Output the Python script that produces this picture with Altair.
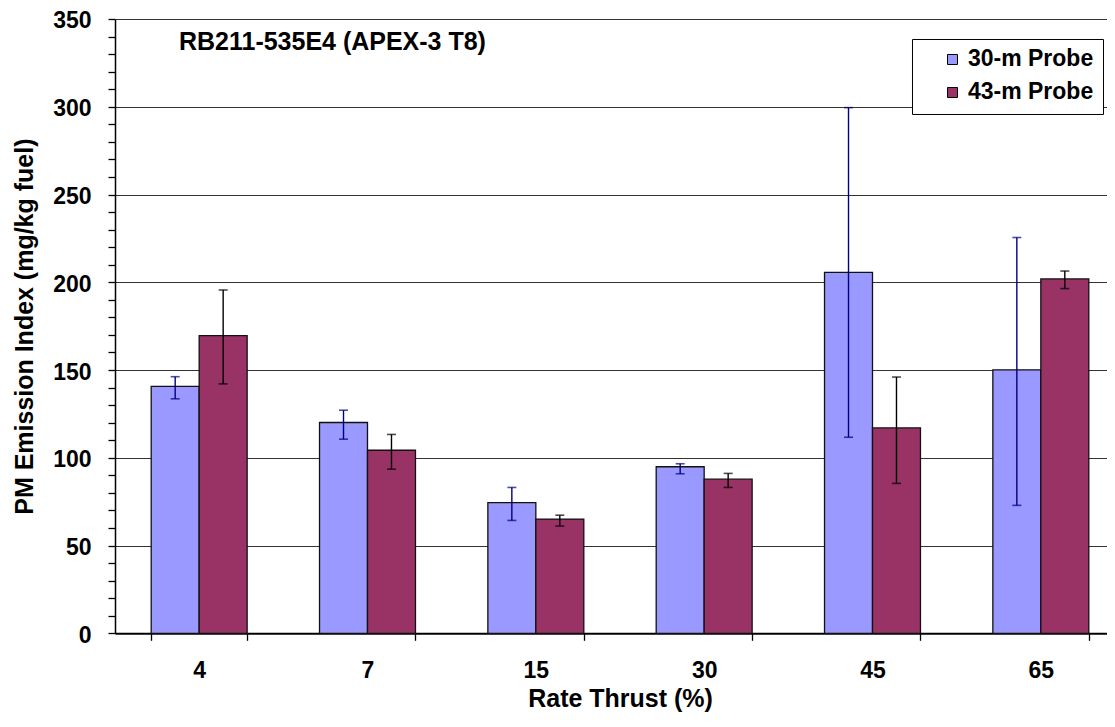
import altair as alt
import pandas as pd

# ---- data ----
thrust = ["4", "7", "15", "30", "45", "65"]
series_names = ["30-m Probe", "43-m Probe"]

pm_30m = [140.7, 120.1, 74.4, 94.9, 205.6, 150.1]
lo_30m = [133.6, 110.6, 64.3, 90.9, 111.7, 72.9]
hi_30m = [146.2, 127.1, 83.1, 96.6, 299.5, 225.5]

pm_43m = [169.6, 104.3, 65.1, 87.8, 117.0, 201.9]
lo_43m = [142.1, 93.5, 61.1, 83.1, 85.4, 196.4]
hi_43m = [195.6, 113.3, 67.3, 91.1, 146.0, 206.4]

fill_colors = ["#9999FF", "#993366"]
err_colors = ["#000080", "#000000"]
annotation = ["RB211-535E4 (APEX-3 T8)"]
y_ticks = list(range(0, 351, 10))

FONT = "Liberation Sans"

rows = []
for s, vals, los, his, ec in [
    (series_names[0], pm_30m, lo_30m, hi_30m, err_colors[0]),
    (series_names[1], pm_43m, lo_43m, hi_43m, err_colors[1]),
]:
    for t, v, lo, hi in zip(thrust, vals, los, his):
        rows.append({"thrust": t, "series": s, "pm": v, "lo": lo, "hi": hi, "ecolor": ec})
df = pd.DataFrame(rows)

x_enc = alt.X(
    "thrust:N",
    sort=thrust,
    scale=alt.Scale(range=[0, 1010], paddingInner=0.43, paddingOuter=0.215),
    axis=alt.Axis(
        title="Rate Thrust (%)",
        labelAngle=0,
        tickBand="extent",
        labelPadding=19,
        titleY=73,
        titleBaseline="alphabetic",
        domainWidth=2,
        ticks=True,
        grid=False,
    ),
)
xoff = alt.XOffset(
    "series:N", sort=series_names, scale=alt.Scale(paddingInner=0, paddingOuter=0)
)

y_axis = alt.Axis(
    title="PM Emission Index (mg/kg fuel)",
    values=y_ticks,
    labelExpr="datum.value % 50 === 0 ? datum.label : ''",
    gridOpacity={"condition": {"test": "datum.value % 50 === 0", "value": 1}, "value": 0},
    labelPadding=17,
    labelOffset=2,
    titleX=-78,
    domainWidth=1.5,
)
y_scale = alt.Scale(domain=[0, 350], nice=False, zero=True)

base = alt.Chart(df)

bars = base.mark_bar(stroke="#111111", strokeWidth=1.3).encode(
    x=x_enc,
    xOffset=xoff,
    y=alt.Y("pm:Q", scale=y_scale, axis=y_axis),
    fill=alt.Fill(
        "series:N",
        sort=series_names,
        scale=alt.Scale(domain=series_names, range=fill_colors),
        legend=alt.Legend(
            title=None,
            orient="none",
            legendX=797,
            legendY=20,
            symbolType="square",
            symbolSize=100,
            symbolStrokeColor="black",
            symbolStrokeWidth=1,
            symbolOffset=20,
            labelFont=FONT,
            labelFontSize=23,
            labelFontWeight="bold",
            labelColor="black",
            labelOffset=4,
            labelExpr="datum.label + '\u00a0\u00a0\u00a0'",
            padding=9,
            rowPadding=9,
            strokeColor="black",
            fillColor="white",
        ),
    ),
)

rules = base.mark_rule(strokeWidth=1.4).encode(
    x=x_enc,
    xOffset=xoff,
    y=alt.Y("lo:Q", scale=y_scale, axis=y_axis),
    y2="hi:Q",
    color=alt.Color("ecolor:N", scale=None),
)

caps_lo = base.mark_tick(size=9, thickness=1.6).encode(
    x=x_enc,
    xOffset=xoff,
    y=alt.Y("lo:Q", scale=y_scale, axis=y_axis),
    color=alt.Color("ecolor:N", scale=None),
)
caps_hi = base.mark_tick(size=9, thickness=1.6).encode(
    x=x_enc,
    xOffset=xoff,
    y=alt.Y("hi:Q", scale=y_scale, axis=y_axis),
    color=alt.Color("ecolor:N", scale=None),
)

note = (
    alt.Chart(pd.DataFrame({"text": annotation}))
    .mark_text(
        font=FONT,
        fontSize=25,
        fontWeight="bold",
        align="left",
        baseline="alphabetic",
        color="black",
    )
    .encode(text="text:N", x=alt.value(64), y=alt.value(31))
)

chart = (
    alt.layer(bars, rules, caps_lo, caps_hi, note)
    .properties(
        width=992,
        height=614.3,
        autosize=alt.AutoSizeParams(type="none"),
        padding={"left": 107, "top": 11, "right": 0, "bottom": 80},
    )
    .configure_view(stroke=None)
    .configure_axis(
        labelFont=FONT,
        labelFontSize=23,
        labelFontWeight="bold",
        labelColor="black",
        titleFont=FONT,
        titleFontSize=25,
        titleFontWeight="bold",
        titleColor="black",
        domainColor="black",
        tickColor="black",
        tickSize=7,
        tickWidth=1.3,
        gridColor="#333333",
        gridWidth=1.2,
    )
)

chart.save("out.html", embed_options={"renderer": "svg", "actions": False})
